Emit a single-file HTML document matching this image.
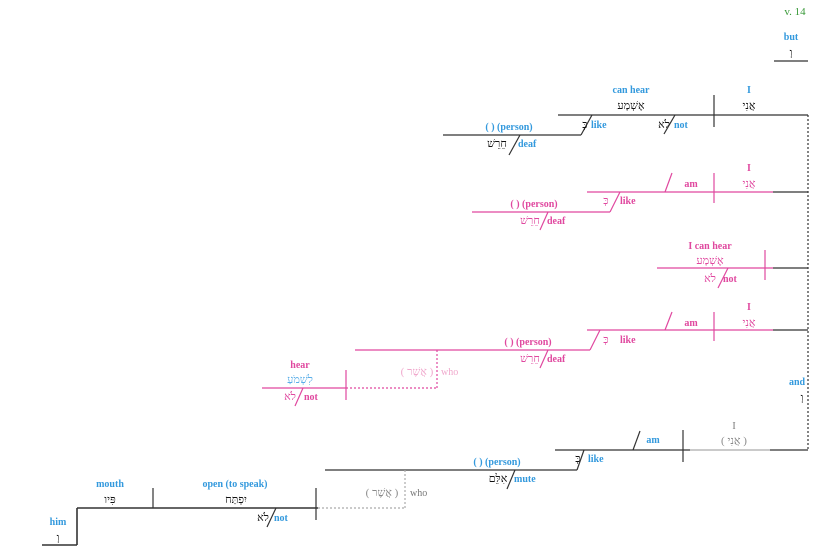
<!DOCTYPE html>
<html><head><meta charset="utf-8"><style>
html,body{margin:0;padding:0;background:#fff;}
svg{display:block;}
text{font-family:"Liberation Serif","DejaVu Serif",serif;font-size:10px;text-anchor:middle;}
.b{fill:#3399dd;font-weight:bold;}
.p{fill:#e0489f;font-weight:bold;}
.lp{fill:#f0a8cc;}
.g{fill:#777;}
.h{fill:#111;font-size:11px;}
.hp{fill:#e0489f;font-size:11px;}
.hg{fill:#888;font-size:11px;}
.hb{fill:#5aaee8;font-size:11px;}
.s{text-anchor:start;}
line{stroke-width:1.2;}
.k{stroke:#333;} .pk{stroke:#e0489f;} .gy{stroke:#aaa;}
</style></head><body>
<svg width="825" height="560">
<text x="795" y="15" style="fill:#3a9a3a;font-size:11px">v. 14</text>
<text x="791" y="40" class="b">but</text>
<text x="791" y="56" class="h">וְ</text>
<line x1="774" y1="61" x2="808" y2="61" class="k"/>
<line x1="808" y1="115" x2="808" y2="450" class="k" stroke-dasharray="2,2"/>

<!-- clause 1 -->
<g>
<line x1="558" y1="115" x2="808" y2="115" class="k"/>
<line x1="714" y1="95" x2="714" y2="127" class="k"/>
<text x="749" y="93" class="b">I</text><text x="749" y="109" class="h">אֲנִי</text>
<text x="631" y="93" class="b">can hear</text><text x="631" y="109" class="h">אֶשְׁמָע</text>
<line x1="592" y1="115" x2="581" y2="135" class="k"/>
<line x1="443" y1="135" x2="581" y2="135" class="k"/>
<text x="585" y="128" class="h">כְּ</text><text x="591" y="128" class="b s">like</text>
<line x1="675" y1="115" x2="664" y2="134" class="k"/>
<text x="664" y="128" class="h">לֹא</text><text x="674" y="128" class="b s">not</text>
<text x="509" y="130" class="b">( ) (person)</text>
<line x1="520" y1="135" x2="509" y2="155" class="k"/>
<text x="497" y="147" class="h">חֵרֵשׁ</text><text x="518" y="147" class="b s">deaf</text>
</g>

<!-- clause 2 -->
<g>
<line x1="587" y1="192" x2="773" y2="192" class="pk"/><line x1="773" y1="192" x2="808" y2="192" class="k"/>
<line x1="714" y1="173" x2="714" y2="203" class="pk"/>
<line x1="665" y1="192" x2="672" y2="173" class="pk"/>
<text x="749" y="171" class="p">I</text><text x="749" y="187" class="hp">אֲנִי</text>
<text x="691" y="187" class="p">am</text>
<line x1="620" y1="192" x2="610" y2="212" class="pk"/>
<line x1="472" y1="212" x2="610" y2="212" class="pk"/>
<text x="606" y="204" class="hp">כְּ</text><text x="620" y="204" class="p s">like</text>
<text x="534" y="207" class="p">( ) (person)</text>
<line x1="548" y1="212" x2="540" y2="230" class="pk"/>
<text x="530" y="224" class="hp">חֵרֵשׁ</text><text x="547" y="224" class="p s">deaf</text>
</g>

<!-- clause 3 -->
<g>
<line x1="657" y1="268" x2="773" y2="268" class="pk"/><line x1="773" y1="268" x2="808" y2="268" class="k"/>
<line x1="765" y1="250" x2="765" y2="280" class="pk"/>
<text x="710" y="249" class="p">I can hear</text><text x="710" y="264" class="hp">אֶשְׁמָע</text>
<line x1="728" y1="268" x2="718" y2="288" class="pk"/>
<text x="710" y="282" class="hp">לֹא</text><text x="723" y="282" class="p s">not</text>
</g>

<!-- clause 4 -->
<g>
<line x1="587" y1="330" x2="773" y2="330" class="pk"/><line x1="773" y1="330" x2="808" y2="330" class="k"/>
<line x1="714" y1="312" x2="714" y2="341" class="pk"/>
<line x1="665" y1="330" x2="672" y2="312" class="pk"/>
<text x="749" y="310" class="p">I</text><text x="749" y="326" class="hp">אֲנִי</text>
<text x="691" y="326" class="p">am</text>
<line x1="600" y1="330" x2="590" y2="350" class="pk"/>
<line x1="355" y1="350" x2="590" y2="350" class="pk"/>
<text x="606" y="343" class="hp">כְּ</text><text x="620" y="343" class="p s">like</text>
<text x="528" y="345" class="p">( ) (person)</text>
<line x1="548" y1="350" x2="540" y2="368" class="pk"/>
<text x="530" y="362" class="hp">חֵרֵשׁ</text><text x="547" y="362" class="p s">deaf</text>
<line x1="437" y1="350" x2="437" y2="388" class="pk" stroke-dasharray="2,2"/>
<line x1="346" y1="388" x2="437" y2="388" class="pk" stroke-dasharray="2,2"/>
<text x="417" y="375" class="lp" style="font-size:11px">( אֲשֶׁר )</text><text x="441" y="375" class="lp s">who</text>
<line x1="346" y1="370" x2="346" y2="400" class="pk"/>
<line x1="262" y1="388" x2="346" y2="388" class="pk"/>
<text x="300" y="368" class="p">hear</text><text x="300" y="383" class="hb">לִשְׁמֹעַ</text>
<line x1="303" y1="388" x2="295" y2="406" class="pk"/>
<text x="290" y="400" class="hp">לֹא</text><text x="304" y="400" class="p s">not</text>
</g>

<text x="797" y="385" class="b">and</text>
<text x="802" y="401" class="h">וְ</text>

<!-- clause 5 -->
<g>
<line x1="555" y1="450" x2="690" y2="450" class="k"/>
<line x1="690" y1="450" x2="770" y2="450" class="gy"/>
<line x1="770" y1="450" x2="808" y2="450" class="k"/>
<line x1="683" y1="430" x2="683" y2="462" class="k"/>
<text x="734" y="429" class="g">I</text><text x="734" y="444" class="hg">( אֲנִי )</text>
<line x1="633" y1="450" x2="640" y2="431" class="k"/>
<text x="653" y="443" class="b">am</text>
<line x1="584" y1="450" x2="577" y2="470" class="k"/>
<line x1="325" y1="470" x2="577" y2="470" class="k"/>
<text x="578" y="462" class="h">כְּ</text><text x="588" y="462" class="b s">like</text>
<text x="497" y="465" class="b">( ) (person)</text>
<line x1="515" y1="470" x2="507" y2="489" class="k"/>
<text x="498" y="482" class="h">אִלֵּם</text><text x="514" y="482" class="b s">mute</text>
<line x1="405" y1="470" x2="405" y2="508" class="gy" stroke-dasharray="2,2"/>
<line x1="318" y1="508" x2="405" y2="508" class="gy" stroke-dasharray="2,2"/>
<text x="382" y="496" class="hg">( אֲשֶׁר )</text><text x="410" y="496" class="g s">who</text>
<line x1="316" y1="488" x2="316" y2="520" class="k"/>
<line x1="77" y1="508" x2="318" y2="508" class="k" style="stroke-width:1.6"/>
<line x1="153" y1="488" x2="153" y2="508" class="k"/>
<text x="235" y="487" class="b">open (to speak)</text><text x="236" y="503" class="h">יִפְתַּח</text>
<text x="110" y="487" class="b">mouth</text><text x="110" y="503" class="h">פִּיו</text>
<line x1="276" y1="508" x2="267" y2="527" class="k"/>
<text x="263" y="521" class="h">לֹא</text><text x="274" y="521" class="b s">not</text>
<line x1="77" y1="508" x2="77" y2="545" class="k" style="stroke-width:1.6"/>
<line x1="42" y1="545" x2="77" y2="545" class="k" style="stroke-width:1.6"/>
<text x="58" y="525" class="b">him</text><text x="58" y="541" class="h">וְ</text>
</g>
</svg>
</body></html>
